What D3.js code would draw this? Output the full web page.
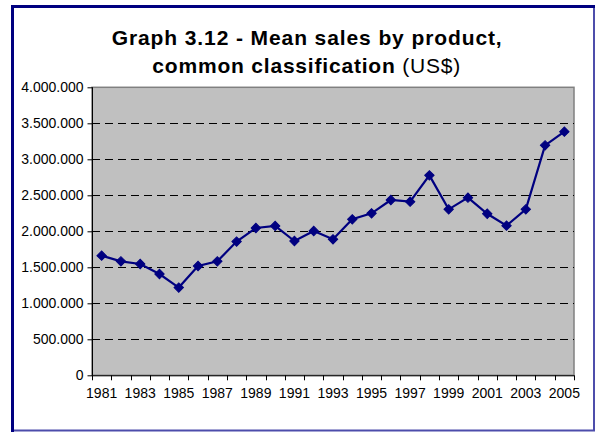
<!DOCTYPE html>
<html>
<head>
<meta charset="utf-8">
<script src="https://cdn.jsdelivr.net/npm/d3@7"></script>
<style>
  html, body { margin: 0; padding: 0; background: #fff; }
  svg { display: block; font-family: "Liberation Sans", Arial, sans-serif; }
</style>
</head>
<body>
<svg id="chart" width="597" height="432"></svg>
<script>
// ---- data ----
const years = [1981,1982,1983,1984,1985,1986,1987,1988,1989,1990,1991,1992,1993,
               1994,1995,1996,1997,1998,1999,2000,2001,2002,2003,2004,2005];
const meanSales = [1662000,1583000,1546000,1407000,1218000,1518000,1583000,1857000,2046000,
                   2074000,1865000,2004000,1889000,2167000,2250000,2435000,2411000,2777000,
                   2305000,2467000,2244000,2078000,2305000,3194000,3383000];
const yTicks = [0,500000,1000000,1500000,2000000,2500000,3000000,3500000,4000000];
const xLabelYears = [1981,1983,1985,1987,1989,1991,1993,1995,1997,1999,2001,2003,2005];
const titleLine1 = "Graph 3.12 - Mean sales by product,";
const titleLine2Bold = "common classification ";
const titleLine2Normal = "(US$)";

// ---- layout ----
const svg = d3.select("#chart");
const plot = { left: 92, right: 574, top: 87.3, bottom: 375.3 };

const locale = d3.formatLocale({ decimal: ",", thousands: ".", grouping: [3], currency: ["$", ""] });
const fmt = locale.format(",d");

const x = d3.scaleBand().domain(years).range([plot.left, plot.right]).padding(0);
const y = d3.scaleLinear().domain([0, 4000000]).range([plot.bottom, plot.top]);

// chart border
svg.append("line").attr("x1", 594).attr("y1", 6).attr("x2", 594).attr("y2", 431)
  .attr("stroke", "#4d4dab").attr("stroke-width", 2);
svg.append("line").attr("x1", 12).attr("y1", 430.5).attr("x2", 595).attr("y2", 430.5)
  .attr("stroke", "#4d4dab").attr("stroke-width", 2);
svg.append("line").attr("x1", 12.5).attr("y1", 5).attr("x2", 12.5).attr("y2", 432)
  .attr("stroke", "#000080").attr("stroke-width", 3);
svg.append("line").attr("x1", 11).attr("y1", 6.5).attr("x2", 595).attr("y2", 6.5)
  .attr("stroke", "#000080").attr("stroke-width", 3);

// title
svg.append("text").attr("x", 306.7).attr("y", 45).attr("text-anchor", "middle")
  .attr("font-size", 21).attr("font-weight", "bold").attr("fill", "#000")
  .attr("font-family", "'Liberation Sans', Arial, sans-serif")
  .attr("textLength", 390).attr("lengthAdjust", "spacing")
  .text(titleLine1);
const t2 = svg.append("text").attr("x", 306.3).attr("y", 73).attr("text-anchor", "middle")
  .attr("font-size", 21).attr("fill", "#000")
  .attr("font-family", "'Liberation Sans', Arial, sans-serif")
  .attr("textLength", 308).attr("lengthAdjust", "spacing");
t2.append("tspan").attr("font-weight", "bold").text(titleLine2Bold);
t2.append("tspan").attr("font-weight", "normal").text(titleLine2Normal);

// plot area
svg.append("rect")
  .attr("x", plot.left).attr("y", plot.top)
  .attr("width", plot.right - plot.left).attr("height", plot.bottom - plot.top)
  .attr("fill", "#c0c0c0").attr("stroke", "#808080").attr("stroke-width", 1.5);

// gridlines
svg.append("g").selectAll("line").data(yTicks.filter(d => d > 0 && d < 4000000)).join("line")
  .attr("x1", plot.left).attr("x2", plot.right)
  .attr("y1", d => Math.round(y(d)) + 0.5).attr("y2", d => Math.round(y(d)) + 0.5)
  .attr("stroke", "#000").attr("stroke-width", 1).attr("stroke-dasharray", "8,5");

// y axis
const yAxis = d3.axisLeft(y).tickValues(yTicks).tickFormat(fmt).tickSizeInner(5).tickSizeOuter(0).tickPadding(4);
const gy = svg.append("g").attr("transform", `translate(${plot.left + 0.5},0)`).call(yAxis);
gy.select(".domain").attr("stroke", "#000").attr("d", `M0,${plot.top}V${plot.bottom}`);
gy.selectAll(".tick line").attr("stroke", "#000");
gy.selectAll(".tick text").attr("font-size", 14).attr("fill", "#000")
  .attr("font-family", "'Liberation Sans', Arial, sans-serif");

// x axis
const xAxis = d3.axisBottom(x).tickValues(xLabelYears).tickSize(0).tickPadding(13);
const gx = svg.append("g").attr("transform", `translate(0,${plot.bottom})`).call(xAxis);
gx.select(".domain").attr("stroke", "#000").attr("d", `M${plot.left},0.5H${plot.right}`);
gx.selectAll(".tick text").attr("font-size", 14).attr("fill", "#000")
  .attr("font-family", "'Liberation Sans', Arial, sans-serif");
// x ticks at category boundaries
const boundaries = years.map(d => x(d)).concat([x(years[years.length - 1]) + x.bandwidth()]);
gx.append("g").selectAll("line").data(boundaries).join("line")
  .attr("x1", d => Math.round(d) + 0.5).attr("x2", d => Math.round(d) + 0.5)
  .attr("y1", 0).attr("y2", 5).attr("stroke", "#000");

// line
const cx = d => x(d) + x.bandwidth() / 2;
const pts = years.map((yr, i) => [cx(yr), y(meanSales[i])]);
svg.append("path").datum(pts)
  .attr("d", d3.line())
  .attr("fill", "none").attr("stroke", "#000080").attr("stroke-width", 2.2);

// markers
const diamond = d3.symbol().type(d3.symbolSquare).size(44);
svg.append("g").selectAll("path").data(pts).join("path")
  .attr("d", diamond)
  .attr("transform", d => `translate(${d[0]},${d[1]}) rotate(45)`)
  .attr("fill", "#000080").attr("stroke", "#000080").attr("stroke-width", 1);
</script>
</body>
</html>
